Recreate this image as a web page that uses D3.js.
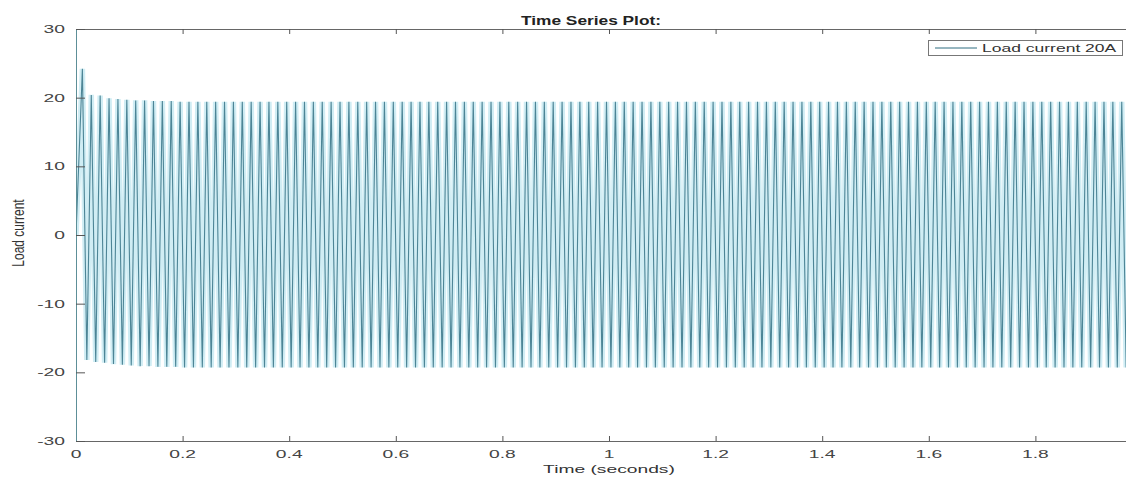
<!DOCTYPE html>
<html>
<head>
<meta charset="utf-8">
<script src="https://cdn.jsdelivr.net/npm/d3@7"></script>
<style>
  html, body { margin: 0; padding: 0; background: #ffffff; }
  svg { display: block; }
  text { font-family: "Liberation Sans", Arial, Helvetica, sans-serif; }
</style>
</head>
<body>
<svg id="chart" width="1126" height="477"></svg>
<script>
// ---------- data ----------
const titleText = "Time Series Plot:";
const xLabelText = "Time (seconds)";
const yLabelText = "Load current";
const seriesName = "Load current 20A";

const xTicks = [0, 0.2, 0.4, 0.6, 0.8, 1, 1.2, 1.4, 1.6, 1.8];
const xTickLabels = ["0", "0.2", "0.4", "0.6", "0.8", "1", "1.2", "1.4", "1.6", "1.8"];
const yTicks = [-30, -20, -10, 0, 10, 20, 30];
const yTickLabels = ["-30", "-20", "-10", "0", "10", "20", "30"];

const xDomain = [0, 1.97];
const yDomain = [-30, 30];

// sampling grid of the waveform: a 60 Hz load current
const startTime = 0;
const startValue = 0;
const firstPeakTime = 0.012;
const period = 1 / 60;

// positive peak of each cycle
const peakValues = [
  24.2, 20.4, 20.3, 19.9, 19.8, 19.7, 19.6, 19.6, 19.5, 19.5,
  19.5, 19.4, 19.4, 19.4, 19.4, 19.4, 19.4, 19.4, 19.4, 19.4,
  19.4, 19.4, 19.4, 19.4, 19.4, 19.4, 19.4, 19.4, 19.4, 19.4,
  19.4, 19.4, 19.4, 19.4, 19.4, 19.4, 19.4, 19.4, 19.4, 19.4,
  19.4, 19.4, 19.4, 19.4, 19.4, 19.4, 19.4, 19.4, 19.4, 19.4,
  19.4, 19.4, 19.4, 19.4, 19.4, 19.4, 19.4, 19.4, 19.4, 19.4,
  19.4, 19.4, 19.4, 19.4, 19.4, 19.4, 19.4, 19.4, 19.4, 19.4,
  19.4, 19.4, 19.4, 19.4, 19.4, 19.4, 19.4, 19.4, 19.4, 19.4,
  19.4, 19.4, 19.4, 19.4, 19.4, 19.4, 19.4, 19.4, 19.4, 19.4,
  19.4, 19.4, 19.4, 19.4, 19.4, 19.4, 19.4, 19.4, 19.4, 19.4,
  19.4, 19.4, 19.4, 19.4, 19.4, 19.4, 19.4, 19.4, 19.4, 19.4,
  19.4, 19.4, 19.4, 19.4, 19.4, 19.4, 19.4, 19.4
];
// negative trough of each cycle
const troughValues = [
  -18.2, -18.5, -18.6, -18.8, -18.9, -19.0, -19.1, -19.1, -19.2, -19.2,
  -19.2, -19.3, -19.3, -19.3, -19.3, -19.3, -19.3, -19.3, -19.3, -19.3,
  -19.3, -19.3, -19.3, -19.3, -19.3, -19.3, -19.3, -19.3, -19.3, -19.3,
  -19.3, -19.3, -19.3, -19.3, -19.3, -19.3, -19.3, -19.3, -19.3, -19.3,
  -19.3, -19.3, -19.3, -19.3, -19.3, -19.3, -19.3, -19.3, -19.3, -19.3,
  -19.3, -19.3, -19.3, -19.3, -19.3, -19.3, -19.3, -19.3, -19.3, -19.3,
  -19.3, -19.3, -19.3, -19.3, -19.3, -19.3, -19.3, -19.3, -19.3, -19.3,
  -19.3, -19.3, -19.3, -19.3, -19.3, -19.3, -19.3, -19.3, -19.3, -19.3,
  -19.3, -19.3, -19.3, -19.3, -19.3, -19.3, -19.3, -19.3, -19.3, -19.3,
  -19.3, -19.3, -19.3, -19.3, -19.3, -19.3, -19.3, -19.3, -19.3, -19.3,
  -19.3, -19.3, -19.3, -19.3, -19.3, -19.3, -19.3, -19.3, -19.3, -19.3,
  -19.3, -19.3, -19.3, -19.3, -19.3, -19.3, -19.3, -19.3
];

// ---------- build points ----------
const points = [{ t: startTime, v: startValue }];
peakValues.forEach((p, k) => {
  points.push({ t: firstPeakTime + k * period, v: p });
  points.push({ t: firstPeakTime + (k + 0.5) * period, v: troughValues[k] });
});

// ---------- layout ----------
const svg = d3.select("#chart");
const plot = { left: 76, right: 1126, top: 29, bottom: 441 };
const SX = 1.75; // horizontal stretch of the original figure's text

const x = d3.scaleLinear().domain(xDomain).range([plot.left, plot.right]);
const y = d3.scaleLinear().domain(yDomain).range([plot.bottom, plot.top]);

svg.append("rect").attr("width", 1126).attr("height", 477).attr("fill", "#ffffff");

svg.append("clipPath").attr("id", "clip")
  .append("rect").attr("x", plot.left).attr("y", plot.top)
  .attr("width", plot.right - plot.left).attr("height", plot.bottom - plot.top);

const g = svg.append("g").attr("clip-path", "url(#clip)");

const line = d3.line().x(d => x(d.t)).y(d => y(d.v)).curve(d3.curveLinear);
// light halo of the dense, blurred trace
g.append("path").datum(points)
  .attr("d", line).attr("fill", "none")
  .attr("stroke", "#d0edf4").attr("stroke-width", 5.5)
  .attr("stroke-linejoin", "bevel").attr("stroke-linecap", "butt");
// the trace itself
g.append("path").datum(points)
  .attr("d", line).attr("fill", "none")
  .attr("stroke", "#2c6a7e").attr("stroke-width", 1.1).attr("stroke-opacity", 0.8)
  .attr("stroke-linejoin", "bevel");

// axes
const axisColor = "#666";
const xAxisB = svg.append("g").attr("transform", `translate(0,${plot.bottom})`)
  .call(d3.axisBottom(x).tickValues(xTicks).tickSizeInner(-5).tickSizeOuter(0).tickFormat(""));
const xAxisT = svg.append("g").attr("transform", `translate(0,${plot.top})`)
  .call(d3.axisTop(x).tickValues(xTicks).tickSizeInner(-5).tickSizeOuter(0).tickFormat(""));
const yAxisL = svg.append("g").attr("transform", `translate(${plot.left},0)`)
  .call(d3.axisLeft(y).tickValues(yTicks).tickSizeInner(-9).tickSizeOuter(0).tickFormat(""));
[xAxisB, xAxisT].forEach(a => {
  a.select(".domain").attr("stroke", axisColor);
  a.selectAll(".tick line").attr("stroke", "#555");
});
yAxisL.select(".domain").attr("stroke", "#5d8f98");
yAxisL.selectAll(".tick line").attr("stroke", "#555");

// tick labels
svg.append("g").selectAll("text").data(xTicks).join("text")
  .attr("transform", d => `translate(${x(d)},458) scale(${SX},1)`)
  .attr("text-anchor", "middle").attr("font-size", 11).attr("fill", "#444")
  .text((d, i) => xTickLabels[i]);
svg.append("g").selectAll("text").data(yTicks).join("text")
  .attr("transform", d => `translate(65,${y(d) + 4}) scale(${SX},1)`)
  .attr("text-anchor", "end").attr("font-size", 11).attr("fill", "#444")
  .text((d, i) => yTickLabels[i]);

// axis labels
svg.append("text")
  .attr("transform", `translate(609,473) scale(${SX},1)`)
  .attr("text-anchor", "middle").attr("font-size", 11).attr("fill", "#333")
  .text(xLabelText);
svg.append("text")
  .attr("transform", `translate(24,233) scale(1.3,1) rotate(-90)`)
  .attr("text-anchor", "middle").attr("font-size", 12).attr("fill", "#333")
  .text(yLabelText);

// title
svg.append("text")
  .attr("x", 521).attr("y", 25)
  .attr("textLength", 140).attr("lengthAdjust", "spacingAndGlyphs")
  .attr("font-size", 12).attr("font-weight", "bold").attr("fill", "#222")
  .text(titleText);

// legend
const lg = svg.append("g");
lg.append("rect").attr("x", 928.5).attr("y", 40.5).attr("width", 194).attr("height", 15)
  .attr("fill", "#fff").attr("stroke", "#777");
lg.append("line").attr("x1", 935).attr("x2", 977).attr("y1", 48).attr("y2", 48)
  .attr("stroke", "#2f6c80").attr("stroke-width", 1);
lg.append("text").attr("transform", `translate(982,52) scale(${SX},1)`)
  .attr("font-size", 10).attr("fill", "#333").text(seriesName);
</script>
</body>
</html>
